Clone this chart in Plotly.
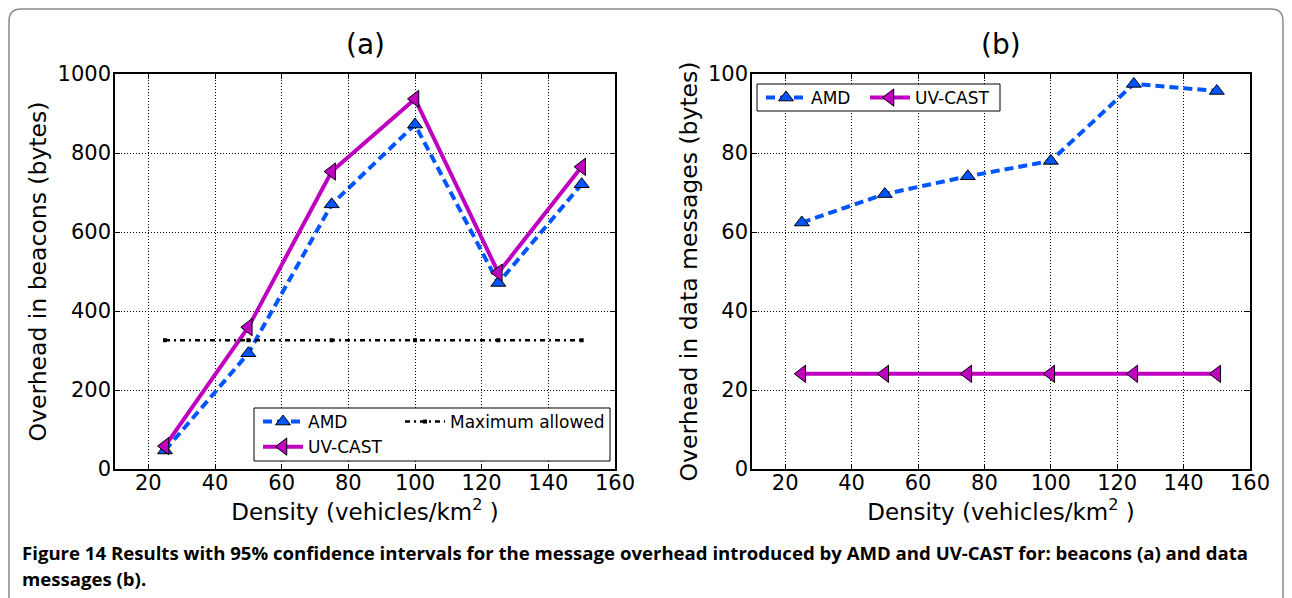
import plotly.graph_objects as go

density = [25, 50, 75, 100, 125, 150]

# (a) overhead in beacons (bytes)
amd_beacons = [47, 293, 670, 872, 471, 721]
uvcast_beacons = [58, 359, 753, 937, 497, 765]
max_allowed = [326, 326, 326, 326, 326, 326]

# (b) overhead in data messages (bytes)
amd_data = [62.4, 69.6, 74.1, 78.0, 97.5, 95.7]
uvcast_data = [24.1, 24.1, 24.1, 24.1, 24.1, 24.1]

x_ticks = [20, 40, 60, 80, 100, 120, 140, 160]
y_ticks_a = [0, 200, 400, 600, 800, 1000]
y_ticks_b = [0, 20, 40, 60, 80, 100]

BLUE = "#0055FF"
MAG = "#BF00BF"
OFF = 8  # page body margin of the browser
W, H = 1292 - OFF, 598 - OFF

def px_x(p):
    return (p - OFF) / W

def px_y(p):
    return 1 - (p - OFF) / H

fig = go.Figure()

# ---- subplot (a)
fig.add_trace(go.Scatter(
    x=density, y=amd_beacons, name="AMD", mode="lines+markers",
    line=dict(color=BLUE, width=4, dash="9px,5px"),
    marker=dict(symbol="triangle-up", size=13, color=BLUE, line=dict(color="black", width=1)),
    xaxis="x", yaxis="y", legend="legend"))
fig.add_trace(go.Scatter(
    x=density, y=uvcast_beacons, name="UV-CAST", mode="lines+markers",
    line=dict(color=MAG, width=4),
    marker=dict(symbol="triangle-left", size=15, color=MAG, line=dict(color="black", width=1)),
    xaxis="x", yaxis="y", legend="legend"))
fig.add_trace(go.Scatter(
    x=density, y=max_allowed, name="Maximum allowed", mode="lines+markers",
    line=dict(color="black", width=2.5, dash="5px,4px,2px,4px"),
    marker=dict(symbol="square", size=4, color="black"),
    xaxis="x", yaxis="y", legend="legend3"))

# ---- subplot (b)
fig.add_trace(go.Scatter(
    x=density, y=amd_data, name="AMD", mode="lines+markers",
    line=dict(color=BLUE, width=4, dash="9px,5px"),
    marker=dict(symbol="triangle-up", size=13, color=BLUE, line=dict(color="black", width=1)),
    xaxis="x2", yaxis="y2", legend="legend2"))
fig.add_trace(go.Scatter(
    x=density, y=uvcast_data, name="UV-CAST", mode="lines+markers",
    line=dict(color=MAG, width=4),
    marker=dict(symbol="triangle-left", size=15, color=MAG, line=dict(color="black", width=1)),
    xaxis="x2", yaxis="y2", legend="legend4"))

FONT = "DejaVu Sans"
tickfont = dict(family=FONT, size=21, color="black")
xtitlefont = dict(family=FONT, size=23, color="black")
ytitlefont = dict(family=FONT, size=23.5, color="black")

def xaxis(domain, anchor):
    return dict(domain=domain, anchor=anchor, range=[10, 160], tickvals=x_ticks,
                showline=True, linecolor="black", linewidth=1.5, mirror="ticks",
                ticks="inside", ticklen=5, tickcolor="black", tickwidth=1,
                showgrid=True, gridcolor="black", griddash="1px,2px", gridwidth=1,
                zeroline=False, tickfont=tickfont, automargin=False,
                ticklabelstandoff=-6,
                title=dict(text="Density (vehicles/km<sup>2</sup> )", font=xtitlefont, standoff=4))

def yaxis(domain, anchor, rng, ticks, title):
    return dict(domain=domain, anchor=anchor, range=rng, tickvals=ticks,
                showline=True, linecolor="black", linewidth=1.5, mirror="ticks",
                ticks="inside", ticklen=5, tickcolor="black", tickwidth=1,
                showgrid=True, gridcolor="black", griddash="1px,2px", gridwidth=1,
                zeroline=False, tickfont=tickfont, automargin=False,
                ticklabelstandoff=-2,
                title=dict(text=title, font=ytitlefont, standoff=4))

ydom = [px_y(469), px_y(74)]

legfont = dict(family=FONT, size=17, color="black")

def leg(x, y):
    return dict(x=px_x(x), y=px_y(y), xanchor="left", yanchor="top",
                orientation="v", bgcolor="rgba(0,0,0,0)", borderwidth=0,
                font=legfont, tracegroupgap=0, itemwidth=40)

fig.update_layout(
    width=W, height=H,
    margin=dict(l=0, r=0, t=0, b=0, autoexpand=False),
    paper_bgcolor="white", plot_bgcolor="white",
    xaxis=xaxis([px_x(115), px_x(615)], "y"),
    yaxis=yaxis(ydom, "x", [0, 1000], y_ticks_a, "Overhead in beacons (bytes)"),
    xaxis2=xaxis([px_x(752), px_x(1250)], "y2"),
    yaxis2=yaxis(ydom, "x2", [0, 100], y_ticks_b, "Overhead in data messages (bytes)"),
    legend=leg(258, 404),
    legend3=leg(400, 404),
    legend2=leg(761, 80),
    legend4=leg(865, 80),
    showlegend=True,
)

shapes = [
    # legend box for (a)
    dict(type="rect", xref="paper", yref="paper", x0=px_x(254), x1=px_x(610),
         y0=px_y(461), y1=px_y(408), line=dict(color="black", width=1),
         fillcolor="white", layer="above"),
    # legend box for (b)
    dict(type="rect", xref="paper", yref="paper", x0=px_x(757), x1=px_x(1000),
         y0=px_y(111), y1=px_y(84), line=dict(color="black", width=1),
         fillcolor="white", layer="above"),
    # rounded outer border
    dict(type="path", xref="paper", yref="paper",
         path=(f"M {px_x(9)},{px_y(620)} L {px_x(9)},{px_y(21)} "
               f"Q {px_x(9)},{px_y(9)} {px_x(21)},{px_y(9)} "
               f"L {px_x(1271)},{px_y(9)} Q {px_x(1283)},{px_y(9)} {px_x(1283)},{px_y(21)} "
               f"L {px_x(1283)},{px_y(620)}"),
         line=dict(color="#8a8a8a", width=1.5)),
]
fig.update_layout(shapes=shapes)

CAPFONT = dict(family="Open Sans", size=18.6, color="black")
annotations = [
    dict(text="(a)", x=px_x(365), y=px_y(44), xref="paper", yref="paper",
         showarrow=False, font=dict(family=FONT, size=28, color="black"),
         xanchor="center", yanchor="middle"),
    dict(text="(b)", x=px_x(1001), y=px_y(44), xref="paper", yref="paper",
         showarrow=False, font=dict(family=FONT, size=28, color="black"),
         xanchor="center", yanchor="middle"),
    dict(text=("<b>Figure 14 Results with 95% confidence intervals for the message overhead "
               "introduced by AMD and UV-CAST for: beacons (a) and data</b>"),
         x=px_x(20), y=px_y(552), xref="paper", yref="paper", showarrow=False,
         xanchor="left", yanchor="middle", align="left", font=CAPFONT),
    dict(text="<b>messages (b).</b>",
         x=px_x(20), y=px_y(578), xref="paper", yref="paper", showarrow=False,
         xanchor="left", yanchor="middle", align="left", font=CAPFONT),
]
fig.update_layout(annotations=annotations)

fig.write_html("out.html")
